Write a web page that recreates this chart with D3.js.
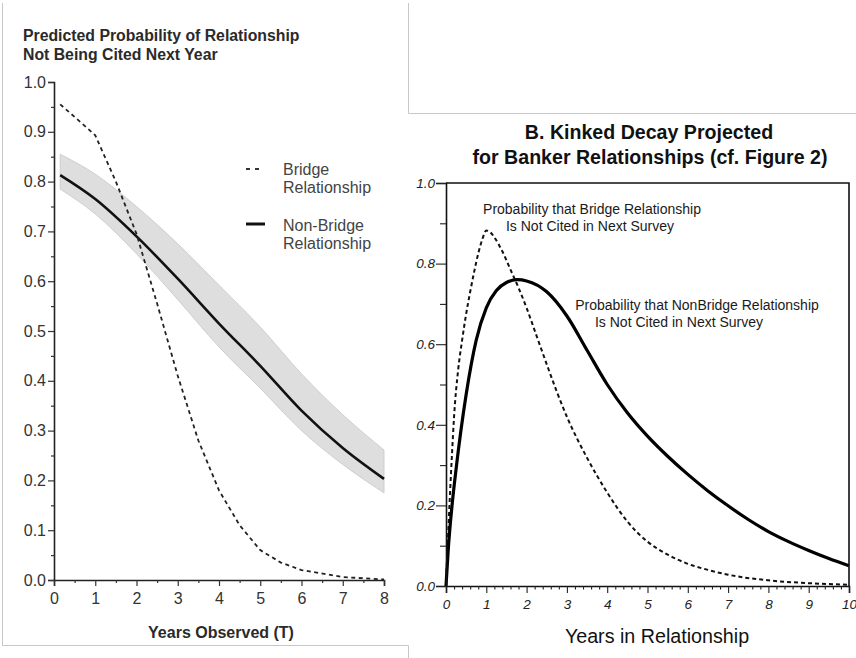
<!DOCTYPE html>
<html>
<head>
<meta charset="utf-8">
<script src="https://cdn.jsdelivr.net/npm/d3@7"></script>
<style>
  body { margin: 0; background: #fff; }
  svg { display: block; font-family: "Liberation Sans", Arial, sans-serif; }
</style>
</head>
<body>
<div id="chart"></div>
<script>
// Panel A: predicted probability of not being cited next year
const yearsObserved = [0.15, 1, 2, 3, 4, 5, 6, 7, 8];
const nonBridgeA = [0.813, 0.765, 0.690, 0.605, 0.515, 0.430, 0.340, 0.265, 0.203];
const nonBridgeUpper = [0.855, 0.815, 0.750, 0.675, 0.592, 0.508, 0.414, 0.332, 0.261];
const nonBridgeLower = [0.785, 0.735, 0.655, 0.563, 0.468, 0.385, 0.300, 0.232, 0.175];

const bridgeYearsA = [0.15, 0.5, 1, 1.5, 2, 2.5, 3, 3.5, 4, 4.5, 5, 5.5, 6, 7, 8];
const bridgeA = [0.955, 0.93, 0.893, 0.80, 0.695, 0.555, 0.41, 0.28, 0.18, 0.11, 0.06, 0.035, 0.02, 0.006, 0.001];

const ticksA_y = [0, 0.1, 0.2, 0.3, 0.4, 0.5, 0.6, 0.7, 0.8, 0.9, 1.0];
const ticksA_x = [0, 1, 2, 3, 4, 5, 6, 7, 8];

// Panel B: kinked decay projected for banker relationships
const bridgeYearsB = [0, 0.05, 0.1, 0.15, 0.2, 0.3, 0.4, 0.5, 0.6, 0.7, 0.8, 0.9, 1.0, 1.1, 1.2, 1.4, 1.6, 1.8, 2.0, 2.25, 2.5, 2.75, 3.0, 3.5, 4, 4.5, 5, 5.5, 6, 6.5, 7, 8, 9, 10];
const bridgeB = [0, 0.12, 0.23, 0.33, 0.42, 0.535, 0.61, 0.675, 0.73, 0.78, 0.825, 0.86, 0.882, 0.878, 0.865, 0.83, 0.785, 0.74, 0.69, 0.62, 0.55, 0.482, 0.42, 0.318, 0.232, 0.16, 0.11, 0.078, 0.055, 0.04, 0.028, 0.014, 0.007, 0.003];

const nonBridgeYearsB = [0, 0.06, 0.15, 0.25, 0.5, 0.75, 1.0, 1.25, 1.5, 1.77, 2.0, 2.5, 3.0, 3.5, 4.0, 4.5, 5, 5.5, 6, 6.5, 7, 7.5, 8, 8.5, 9, 9.5, 10];
const nonBridgeB = [0, 0.097, 0.2, 0.29, 0.475, 0.61, 0.69, 0.733, 0.753, 0.76, 0.757, 0.73, 0.67, 0.585, 0.50, 0.43, 0.372, 0.322, 0.277, 0.236, 0.199, 0.165, 0.135, 0.11, 0.088, 0.068, 0.05];

const ticksB_y = [0, 0.2, 0.4, 0.6, 0.8, 1.0];
const ticksB_x = [0, 1, 2, 3, 4, 5, 6, 7, 8, 9, 10];

const W = 856, H = 658;
const svg = d3.select('#chart').append('svg')
  .attr('width', W)
  .attr('height', H);

// scan frame lines
const frame = svg.append('g').attr('stroke', '#c8c8c8').attr('fill', 'none').attr('stroke-width', 1);
frame.append('path').attr('d', 'M2.5,3 V645.5 H408.5 V658');
frame.append('path').attr('d', 'M408.5,3 V113.5 H856');

// ---------- Panel A ----------
const xA = d3.scaleLinear().domain([0, 8]).range([54, 384]);
const yA = d3.scaleLinear().domain([0, 1]).range([580, 82]);
const gA = svg.append('g').attr('fill', '#2a2a2a');

gA.append('text').attr('x', 23).attr('y', 41)
  .style('font-weight', 'bold').style('font-size', '15.8px')
  .text('Predicted Probability of Relationship');
gA.append('text').attr('x', 23).attr('y', 60)
  .style('font-weight', 'bold').style('font-size', '15.8px')
  .text('Not Being Cited Next Year');

// confidence band
const bandRows = yearsObserved.map((t, i) => ({ t: t, lo: nonBridgeLower[i], hi: nonBridgeUpper[i] }));
const band = d3.area()
  .x(d => xA(d.t))
  .y0(d => yA(d.lo))
  .y1(d => yA(d.hi))
  .curve(d3.curveMonotoneX);
gA.append('path').datum(bandRows)
  .attr('d', band)
  .attr('fill', '#dedede')
  .attr('stroke', '#c6c6c6')
  .attr('stroke-width', 0.8);

const lineA = d3.line().x(d => xA(d[0])).y(d => yA(d[1]));
gA.append('path')
  .datum(yearsObserved.map((t, i) => [t, nonBridgeA[i]]))
  .attr('d', lineA.curve(d3.curveMonotoneX))
  .attr('fill', 'none').attr('stroke', '#111').attr('stroke-width', 2.6);

gA.append('path')
  .datum(bridgeYearsA.map((t, i) => [t, bridgeA[i]]))
  .attr('d', d3.line().x(d => xA(d[0])).y(d => yA(d[1])))
  .attr('fill', 'none').attr('stroke', '#222').attr('stroke-width', 1.8)
  .attr('stroke-dasharray', '4,3.5');

// axes
const axA_y = gA.append('g').attr('transform', 'translate(54,0)')
  .call(d3.axisLeft(yA).tickValues(ticksA_y).tickFormat(d3.format('.1f')).tickSize(6).tickPadding(2));
gA.append('g').attr('transform', 'translate(54,0)')
  .call(d3.axisLeft(yA).tickValues(d3.range(0.05, 1, 0.1)).tickFormat('').tickSize(3))
  .call(g => g.select('.domain').remove());
const axA_x = gA.append('g').attr('transform', 'translate(0,580)')
  .call(d3.axisBottom(xA).tickValues(ticksA_x).tickSize(6).tickPadding(7));
gA.append('g').attr('transform', 'translate(0,580)')
  .call(d3.axisBottom(xA).tickValues(d3.range(0.5, 8, 1)).tickFormat('').tickSize(3))
  .call(g => g.select('.domain').remove());
[axA_y, axA_x].forEach(a => {
  a.selectAll('text').style('font-size', '16px').attr('fill', '#333');
  a.select('.domain').attr('stroke', '#222').attr('stroke-width', 1.6);
});
gA.selectAll('.tick line').attr('stroke', '#333').attr('stroke-width', 1.2);

gA.append('text').attr('x', 221).attr('y', 638)
  .attr('text-anchor', 'middle')
  .style('font-weight', 'bold').style('font-size', '16px')
  .text('Years Observed (T)');

// legend
const leg = gA.append('g').attr('fill', '#444').style('font-size', '16px');
leg.append('line').attr('x1', 246).attr('x2', 261).attr('y1', 169).attr('y2', 169)
  .attr('stroke', '#333').attr('stroke-width', 1.8).attr('stroke-dasharray', '4,5');
leg.append('text').attr('x', 283).attr('y', 175).text('Bridge');
leg.append('text').attr('x', 283).attr('y', 193).text('Relationship');
leg.append('line').attr('x1', 246).attr('x2', 265).attr('y1', 224).attr('y2', 224)
  .attr('stroke', '#111').attr('stroke-width', 3);
leg.append('text').attr('x', 283).attr('y', 231).text('Non-Bridge');
leg.append('text').attr('x', 283).attr('y', 249).text('Relationship');

// ---------- Panel B ----------
const xB = d3.scaleLinear().domain([0, 10]).range([446, 849]);
const yB = d3.scaleLinear().domain([0, 1]).range([586, 183]);
const gB = svg.append('g').attr('fill', '#111');

gB.append('text').attr('x', 649).attr('y', 139).attr('text-anchor', 'middle')
  .style('font-weight', 'bold').style('font-size', '19.6px')
  .text('B. Kinked Decay Projected');
gB.append('text').attr('x', 650).attr('y', 164).attr('text-anchor', 'middle')
  .style('font-weight', 'bold').style('font-size', '19.6px')
  .text('for Banker Relationships (cf. Figure 2)');

const lineB = d3.line().x(d => xB(d[0])).y(d => yB(d[1])).curve(d3.curveMonotoneX);
gB.append('path')
  .datum(bridgeYearsB.map((t, i) => [t, bridgeB[i]]))
  .attr('d', lineB)
  .attr('fill', 'none').attr('stroke', '#111').attr('stroke-width', 2)
  .attr('stroke-dasharray', '4,3');
gB.append('path')
  .datum(nonBridgeYearsB.map((t, i) => [t, nonBridgeB[i]]))
  .attr('d', lineB)
  .attr('fill', 'none').attr('stroke', '#000').attr('stroke-width', 3.2);

// frame top and right
gB.append('path').attr('d', `M${xB(0)},${yB(1)} H${xB(10)} V${yB(0)}`)
  .attr('fill', 'none').attr('stroke', '#111').attr('stroke-width', 1.6);

const axB_y = gB.append('g').attr('transform', `translate(${xB(0)},0)`)
  .call(d3.axisLeft(yB).tickValues(ticksB_y).tickFormat(d3.format('.1f')).tickSize(10).tickPadding(1));
gB.append('g').attr('transform', `translate(${xB(0)},0)`)
  .call(d3.axisLeft(yB).tickValues(d3.range(0.1, 1, 0.2)).tickFormat('').tickSize(6))
  .call(g => g.select('.domain').remove());
const axB_x = gB.append('g').attr('transform', `translate(0,${yB(0)})`)
  .call(d3.axisBottom(xB).tickValues(ticksB_x).tickSize(7).tickPadding(6));
gB.append('g').attr('transform', `translate(0,${yB(0)})`)
  .call(d3.axisBottom(xB).tickValues(d3.range(0, 10, 0.2).filter(v => Math.abs(v - Math.round(v)) > 0.01)).tickFormat('').tickSize(3.5))
  .call(g => g.select('.domain').remove());
[axB_y, axB_x].forEach(a => {
  a.selectAll('text').style('font-size', '13.5px').style('font-style', 'italic').attr('fill', '#222');
  a.select('.domain').attr('stroke', '#111').attr('stroke-width', 1.6);
});
gB.selectAll('.tick line').attr('stroke', '#222').attr('stroke-width', 1.1);

gB.append('text').attr('x', 657).attr('y', 643).attr('text-anchor', 'middle')
  .style('font-size', '19.7px')
  .text('Years in Relationship');

const ann = gB.append('g').style('font-size', '14px').attr('fill', '#1a1a1a');
ann.append('text').attr('x', 592).attr('y', 214).attr('text-anchor', 'middle').text('Probability that Bridge Relationship');
ann.append('text').attr('x', 590).attr('y', 231).attr('text-anchor', 'middle').text('Is Not Cited in Next Survey');
ann.append('text').attr('x', 697).attr('y', 310).attr('text-anchor', 'middle').text('Probability that NonBridge Relationship');
ann.append('text').attr('x', 679).attr('y', 327).attr('text-anchor', 'middle').text('Is Not Cited in Next Survey');
</script>
</body>
</html>
